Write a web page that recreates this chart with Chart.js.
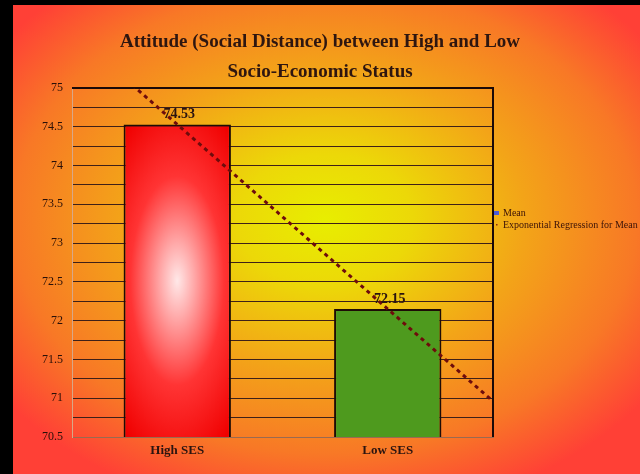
<!DOCTYPE html>
<html lang="en">
<head>
  <meta charset="UTF-8" />
  <title>Attitude (Social Distance) between High and Low SES</title>
  <script src="https://cdn.jsdelivr.net/npm/chart.js"></script>
  <style>
    html, body {
      margin: 0;
      padding: 0;
      background: #000;
      width: 640px;
      height: 474px;
      overflow: hidden;
    }
    .frame {
      position: absolute;
      left: 13px;
      top: 5px;
      width: 627px;
      height: 469px;
    }
  </style>
</head>
<body>
  <div class="frame">
    <canvas id="ssChart" width="627" height="469"></canvas>
  </div>

  <script>
    const titleLines = ["Attitude (Social Distance) between High and Low", "Socio-Economic Status"];
    const groups = ["High SES", "Low SES"];
    const means = [74.53, 72.15];
    // exponential regression line, ends of the drawn segment (x in category units)
    const trendX = [-0.5, 1.5];
    const trendY = [75.72, 70.96];
    const yTicks = [70.5, 71, 71.5, 72, 72.5, 73, 73.5, 74, 74.5, 75];

    const serif = "'Liberation Serif', 'Times New Roman', serif";
    const W = 627, H = 469;

    // elliptical radial fill painted into an offscreen canvas, used as a pattern
    function ellipseFill(cx, cy, rx, ry, stops) {
      const off = document.createElement("canvas");
      off.width = W; off.height = H;
      const g = off.getContext("2d");
      g.save();
      g.translate(cx, cy);
      g.scale(rx / ry, 1);
      const grd = g.createRadialGradient(0, 0, 0, 0, 0, ry);
      stops.forEach(s => grd.addColorStop(s[0], s[1]));
      g.fillStyle = grd;
      g.fillRect(-W * 3, -H * 3, W * 6, H * 6);
      g.restore();
      return off;
    }

    const bgCanvas = ellipseFill(312, 215, 400, 300, [
      [0, "#e8ee00"],
      [0.22, "#ecd808"],
      [0.5, "#f3a418"],
      [0.78, "#f87826"],
      [1, "#ff4036"]
    ]);

    const ctx = document.getElementById("ssChart").getContext("2d");

    let redBarPattern = null;
    function barColor(c) {
      if (c.dataIndex === 1) return "#4e9a1e";
      const ch = c.chart;
      if (!ch.chartArea) return "#ff1a1a";
      if (!redBarPattern) {
        const cx = ch.scales.x.getPixelForValue(0);
        const top = ch.scales.y.getPixelForValue(means[0]);
        const bottom = ch.scales.y.getPixelForValue(70.5);
        const cy = top + (bottom - top) * 0.5;
        const off = ellipseFill(cx, cy, 85, 190, [
          [0, "#ffe8e8"],
          [0.2, "#ffa8a8"],
          [0.55, "#ff3434"],
          [1, "#f00000"]
        ]);
        redBarPattern = ch.ctx.createPattern(off, "no-repeat");
      }
      return redBarPattern;
    }

    const paintBackground = {
      id: "paintBackground",
      beforeDraw(chart) {
        chart.ctx.drawImage(bgCanvas, 0, 0);
      }
    };

    const frameAndText = {
      id: "frameAndText",
      beforeDatasetsDraw(chart) {
        const c = chart.ctx, a = chart.chartArea;
        c.save();
        c.strokeStyle = "#1a0a08";
        c.lineWidth = 2;
        c.beginPath();
        c.moveTo(a.left, a.top);
        c.lineTo(a.right, a.top);
        c.lineTo(a.right, a.bottom);
        c.stroke();
        c.restore();
      },
      afterDatasetsDraw(chart) {
        const c = chart.ctx;
        c.save();
        // title
        c.fillStyle = "#2e1610";
        c.textAlign = "center";
        c.textBaseline = "middle";
        c.font = "bold 19px " + serif;
        c.fillText(titleLines[0], 307, 37);
        c.fillText(titleLines[1], 307, 67);

        // value labels over the bars
        c.font = "bold 14px " + serif;
        c.fillStyle = "#2a1410";
        means.forEach((v, i) => {
          const x = chart.scales.x.getPixelForValue(i);
          const y = chart.scales.y.getPixelForValue(v);
          c.fillText(v.toFixed(2), x + 2, y - 10);
        });

        // legend on the right
        c.textAlign = "left";
        c.font = "10px " + serif;
        c.fillStyle = "#4a5ad8";
        c.fillRect(481, 206, 5, 4);
        c.fillStyle = "#3a1208";
        c.fillText(chart.data.datasets[0].label, 490, 208);
        c.fillStyle = "#8a2a10";
        c.fillRect(483, 219, 1.5, 1.5);
        c.fillStyle = "#3a1208";
        c.fillText(chart.data.datasets[1].label, 490, 220);
        c.restore();
      }
    };

    new Chart(ctx, {
      data: {
        labels: groups,
        datasets: [
          {
            type: "bar",
            label: "Mean",
            data: means,
            backgroundColor: barColor,
            borderColor: "#1e0c06",
            borderWidth: 2,
            borderSkipped: false,
            grouped: false,
            barPercentage: 0.51,
            categoryPercentage: 1.0,
            order: 2
          },
          {
            type: "line",
            label: "Exponential Regression for Mean",
            data: trendX.map((x, i) => ({ x: x, y: trendY[i] })),
            xAxisID: "x2",
            borderColor: "#6e0c0c",
            borderWidth: 3,
            borderDash: [4, 4],
            pointRadius: 0,
            fill: false,
            order: 1
          }
        ]
      },
      options: {
        responsive: false,
        animation: false,
        layout: { padding: { top: 83, right: 147, bottom: 0, left: 0 } },
        plugins: {
          legend: { display: false },
          title: { display: false },
          tooltip: { enabled: false }
        },
        scales: {
          x: {
            type: "category",
            offset: true,
            grid: { display: false, drawTicks: false },
            border: { color: "#9a6a50", width: 1 },
            ticks: {
              color: "#2a1410",
              font: { family: serif, size: 13, weight: "bold" },
              padding: 6
            },
            afterFit(s) { s.height = 37; }
          },
          x2: {
            type: "linear",
            min: -0.5,
            max: 1.5,
            display: false
          },
          y: {
            min: 70.5,
            max: 75,
            afterBuildTicks(s) {
              s.ticks = [];
              for (let v = 70.5; v <= 75.001; v += 0.25) s.ticks.push({ value: +v.toFixed(2) });
            },
            grid: { color: "#3e2018", lineWidth: 1, drawTicks: false },
            border: { color: "#d8a888", width: 1 },
            ticks: {
              color: "#2a1008",
              font: { family: serif, size: 12 },
              padding: 9,
              callback: v => (yTicks.includes(v) ? String(v) : "")
            },
            afterFit(s) { s.width = 59; }
          }
        }
      },
      plugins: [paintBackground, frameAndText]
    });
  </script>
</body>
</html>
